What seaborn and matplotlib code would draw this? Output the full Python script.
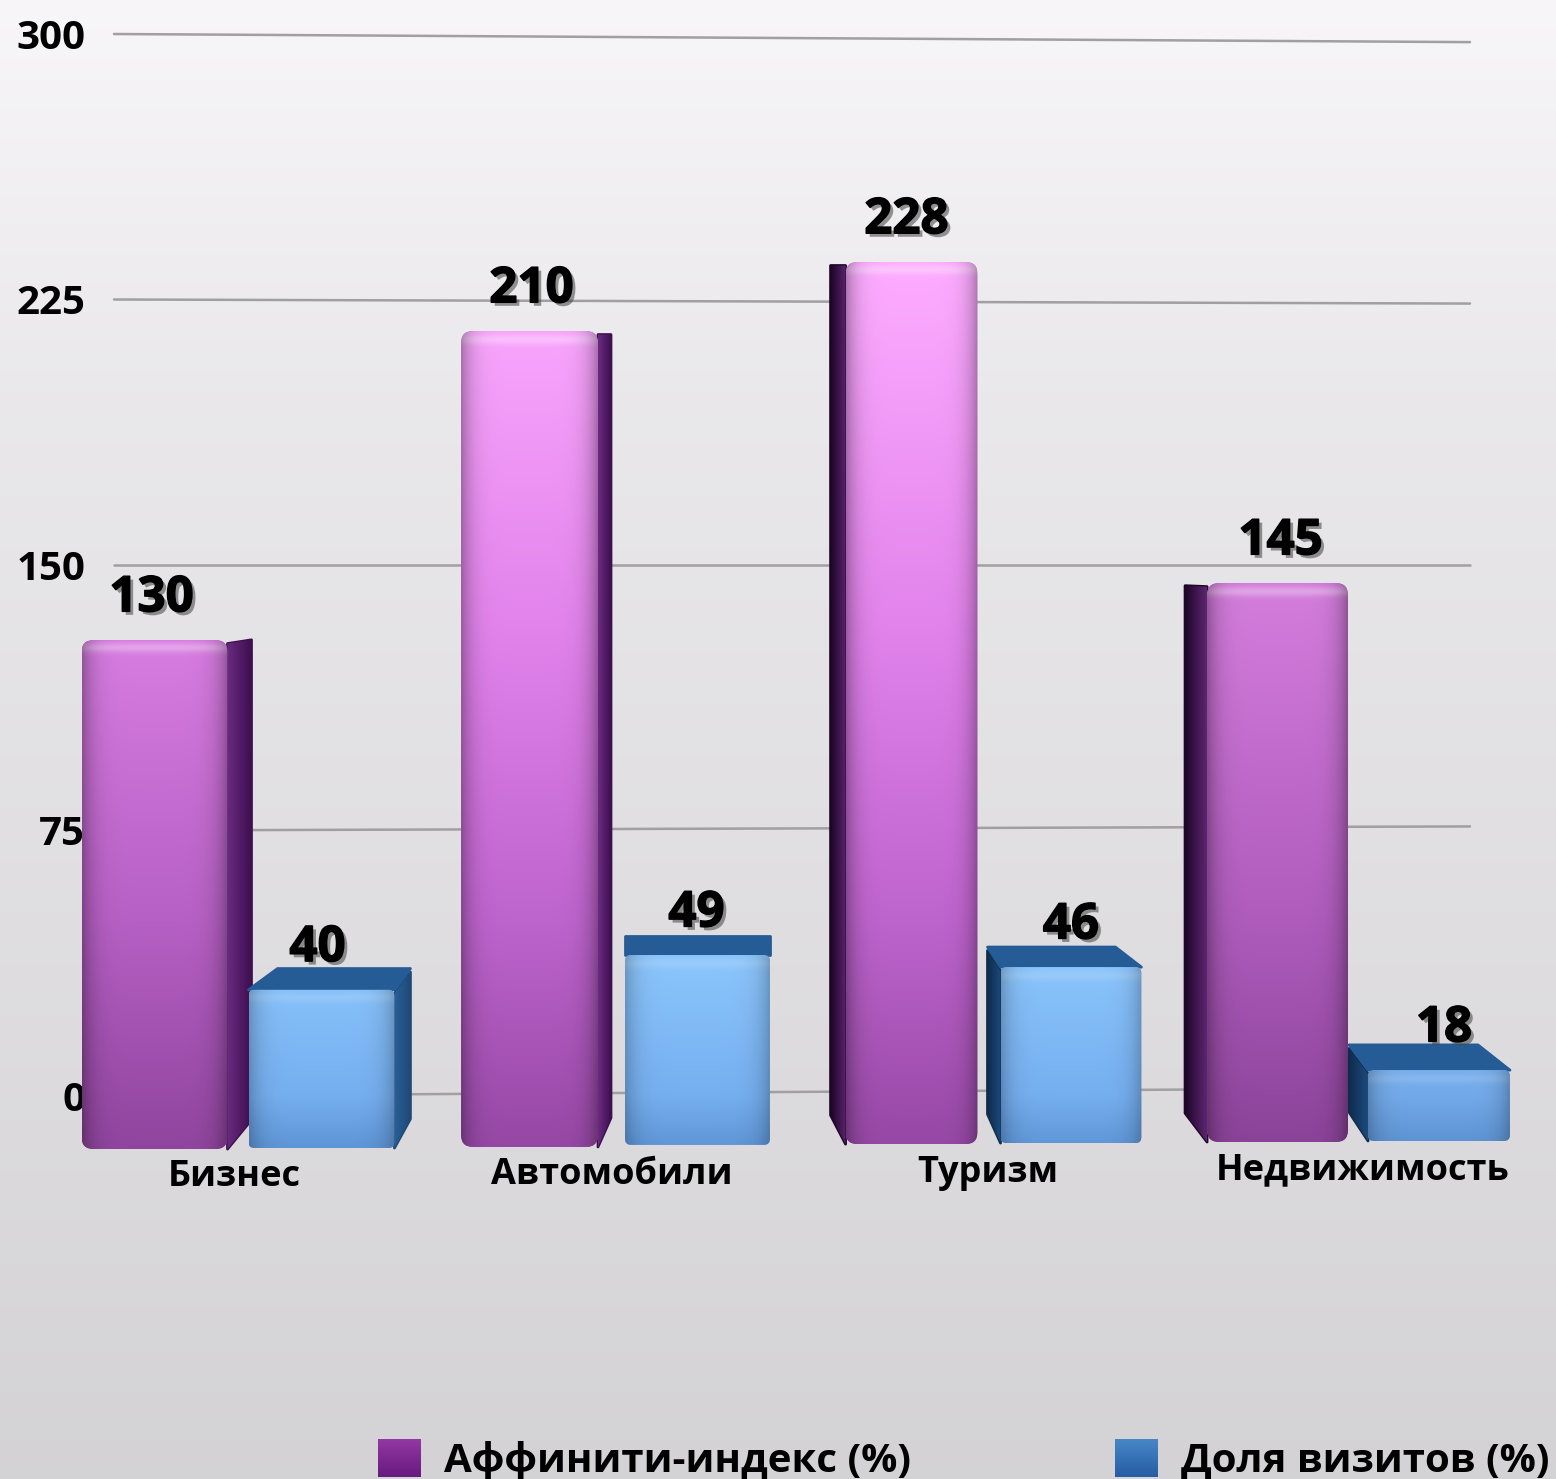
import matplotlib
matplotlib.use('Agg')
import matplotlib.pyplot as plt
import matplotlib.patheffects as pe
from matplotlib.patches import FancyBboxPatch, Polygon, BoxStyle
from matplotlib.transforms import ScaledTranslation
import numpy as np
import pandas as pd
import seaborn as sns

categories = ['Бизнес', 'Автомобили', 'Туризм', 'Недвижимость']
affinity_labels = [130, 210, 228, 145]
visit_labels = [40, 49, 46, 18]
# the picture is a 3D render, so the drawn tops differ from the printed numbers
affinity_tops = [128.8, 216.1, 235.6, 144.9]
visit_tops = [30.0, 39.8, 36.4, 7.3]
floors_affinity = [-15.0, -14.4, -13.6, -13.0]
floors_visits = [-14.7, -13.8, -13.3, -12.7]
y_ticks = [0, 75, 150, 225, 300]
series_names = ['Аффинити-индекс (%)', 'Доля визитов (%)']

W, H = 1556, 1479
PX_X = 373.5            # pixels per category
PX_Y = 3.54             # pixels per y unit
x_left = -238 / PX_X
x_right = (W - 238) / PX_X
y_top = 300 + 34 / PX_Y
y_bottom = 300 - (H - 34) / PX_Y
DEPTH = 0.05            # how far the back face moves to the horizon
HORIZON = 150

# side face width in pixels, + shows on the right, - on the left
side_affinity = [24, 13, -15, -22]
side_visits = [16, 0, -13, -19]
# front face trims in pixels (left, right) and brightness per bar
trim_affinity = [(0, 0), (6, 3), (17, -3), (5, 0)]
trim_visits = [(0, 0), (3, -2), (5, 0), (-1, 5)]
glow_affinity = [.96, 1.0, 1.0, .92]
glow_visits = [1.0, 1.0, 1.0, .97]
# value label nudges in pixels
nudge_affinity = [-3, 2, -5, 3]
nudge_visits = [-4, -1, 0, 5]

sns.set_theme(style='white')
plt.rcParams['font.family'] = ['Open Sans', 'DejaVu Sans']

df = pd.DataFrame({
    'category': categories * 2,
    'series': [series_names[0]] * 4 + [series_names[1]] * 4,
    'top': affinity_tops + visit_tops,
})

fig = plt.figure(figsize=(W / 100, H / 100), dpi=100)
ax = fig.add_axes([0, 0, 1, 1])

sns.barplot(data=df, x='category', y='top', hue='series', order=categories,
            hue_order=series_names, palette=['#b060c8', '#70a8e8'], width=.894,
            gap=.126, saturation=1, linewidth=0, errorbar=None, ax=ax)

# page background
bg_px = np.linspace(0, H, 256)
bg = np.interp(bg_px, [0, 220, 400, 800, 1200, 1479], [.97, .94, .915, .885, .855, .83])
bg_rgb = np.stack([bg, bg - .006, bg + .003], axis=1).clip(0, 1)
ax.imshow(bg_rgb[:, None, :], extent=[x_left, x_right, y_bottom, y_top], aspect='auto', zorder=0)

# grid lines converge slightly towards the right
gx0, gx1 = (114 - 238) / PX_X, (1470 - 238) / PX_X
for v in y_ticks:
    ax.plot([gx0, gx1], [v, v + (150 - v) * .0153], color='#a0a0a0', lw=1.8, zorder=.5)


def front_colors(stops_v, stops_rgb, y0, y1, edge, glow, strip_amount):
    rows = int((y1 - y0) * PX_Y)
    ys = np.linspace(y1, y0, rows)
    rgb = np.stack([np.interp(ys, stops_v, [c[i] for c in stops_rgb]) for i in range(3)], axis=1) / 255
    # pale strip just under the top edge
    strip = strip_amount * np.exp(-((np.arange(rows) - 8) / 5.0) ** 2)[:, None]
    rgb = rgb * glow * (1 - strip) + strip
    u = np.linspace(-1, 1, 80)
    shade = 1 - edge * np.abs(u) ** 6
    return (rgb[:, None, :] * shade[None, :, None]).clip(0, 1)


purple_stops = ([-14, 50, 130, 230], [(150, 72, 165), (190, 100, 205), (225, 130, 235), (252, 170, 255)])
blue_stops = ([-14, 0, 40], [(95, 150, 215), (118, 175, 240), (140, 198, 252)])
aspect = PX_X / PX_Y


def side_face(points, inner, outer, flip):
    poly = Polygon(points, closed=True, fc=outer, ec=outer, lw=2, joinstyle='round', zorder=2)
    ax.add_patch(poly)
    xs = [p[0] for p in points]
    ys = [p[1] for p in points]
    cols = np.array([matplotlib.colors.to_rgb(inner), matplotlib.colors.to_rgb(outer)])
    if flip:
        cols = cols[::-1]
    img = ax.imshow(np.linspace(cols[0], cols[1], 40)[None, :, :],
                    extent=[min(xs), max(xs), min(ys), max(ys)], aspect='auto', zorder=2.1)
    img.set_clip_path(poly)


def draw_bar(rect, floor, top, side, trim, glow, stops, colors_side, color_top, rounding, edge_dim, strip):
    x0 = rect.get_x() + trim[0] / PX_X
    w = rect.get_width() - (trim[0] + trim[1]) / PX_X
    rect.set_x(x0)
    rect.set_width(w)
    rect.set_y(floor)
    rect.set_height(top - floor)
    rect.set_zorder(3)
    s = side / PX_X
    rise_top = DEPTH * (HORIZON - top)
    rise_floor = DEPTH * (HORIZON - floor)
    side_rise = max(rise_top, 0)
    edge = x0 + w if side > 0 else x0
    if side != 0:
        inner, outer = colors_side[0] if side > 0 else colors_side[1]
        side_face([(edge, top - 1), (edge + s, top + side_rise - 1),
                   (edge + s, floor + rise_floor), (edge, floor)], inner, outer, side < 0)
    # only the low bars show their top face
    if rise_top > 2:
        far = 13 / PX_X
        xa, xb = x0 + s, x0 + w + s
        if side > 0:
            xa += far
        elif side < 0:
            xb -= far
        ax.add_patch(Polygon([(x0, top), (xa, top + rise_top), (xb, top + rise_top), (x0 + w, top)],
                             closed=True, fc=color_top, ec=color_top, lw=2, joinstyle='round', zorder=2.2))
    clip = FancyBboxPatch((x0, floor), w, top - floor,
                          boxstyle=BoxStyle('Round', pad=0, rounding_size=rounding),
                          mutation_aspect=aspect, fc='none', ec='none', zorder=3)
    ax.add_patch(clip)
    rect.set_clip_path(clip)
    img = ax.imshow(front_colors(stops[0], stops[1], floor, top, edge_dim, glow, strip),
                    extent=[x0, x0 + w, floor, top], aspect='auto', zorder=3.1)
    img.set_clip_path(clip)


purple_sides = (('#6a2a80', '#3f1050'), ('#5c2570', '#1e0628'))
blue_sides = (('#2a5f96', '#1f4a78'), ('#1c4a7c', '#0f2c4e'))
for i, rect in enumerate(ax.containers[0]):
    draw_bar(rect, floors_affinity[i], affinity_tops[i], side_affinity[i], trim_affinity[i], glow_affinity[i],
             purple_stops, purple_sides, '#6a2a80', 12 / PX_X, .3, .3)
for i, rect in enumerate(ax.containers[1]):
    draw_bar(rect, floors_visits[i], visit_tops[i], side_visits[i], trim_visits[i], glow_visits[i],
             blue_stops, blue_sides, '#265c96', 6 / PX_X, .22, .12)

shadow = [pe.SimplePatchShadow(offset=(2.5, -2.5), shadow_rgbFace='#444444', alpha=.55),
          pe.withStroke(linewidth=1, foreground='black')]
for cont, labels, nudges in zip(ax.containers, [affinity_labels, visit_labels], [nudge_affinity, nudge_visits]):
    texts = ax.bar_label(cont, labels=labels, padding=12, fontsize=35.5, fontweight='bold',
                         color='black', zorder=10, path_effects=shadow)
    for txt, dx in zip(texts, nudges):
        txt.xyann = (dx * .72, 12)

ax.set_xlim(x_left, x_right)
ax.set_ylim(y_bottom, y_top)
ax.set_xlabel('')
ax.set_ylabel('')
sns.despine(ax=ax, left=True, bottom=True)

ax.set_yticks(y_ticks)
ax.tick_params(axis='y', length=0, pad=-61.2, labelsize=29, labelcolor='black')
for lab in ax.get_yticklabels():
    lab.set_fontweight('bold')
    lab.set_zorder(10)

ax.set_xticks(range(4))
ax.set_xticklabels(categories)
ax.tick_params(axis='x', length=0, pad=-222.5, labelsize=26, labelcolor='black')
x_shift = [-4, 0, 3, 4]
y_shift = [-7, -5, -3, 0]
for lab, dx, dy in zip(ax.get_xticklabels(), x_shift, y_shift):
    lab.set_fontweight('bold')
    lab.set_va('center')
    lab.set_transform(lab.get_transform() + ScaledTranslation(dx / 100, dy / 100, fig.dpi_scale_trans))

sns.move_legend(ax, 'lower left', bbox_to_anchor=(378 / W, -.0013), ncol=2, frameon=False,
                title=None, fontsize=29, handlelength=1.05, handleheight=1.05,
                handletextpad=.6, columnspacing=5.05, borderpad=0, borderaxespad=0)
leg = ax.get_legend()
for t in leg.get_texts():
    t.set_fontweight('bold')
    t.set_color('black')

# legend swatches get the same soft gradient as the bars
fig.canvas.draw()
swatch_colors = [((.58, .22, .64), (.40, .10, .50)), ((.28, .53, .78), (.15, .36, .64))]
inv = ax.transData.inverted()
for handle, (c0, c1) in zip(leg.legend_handles, swatch_colors):
    bb = handle.get_window_extent()
    (xa, ya), (xb, yb) = inv.transform([(bb.x0, bb.y0), (bb.x1, bb.y1)])
    grad = np.linspace(c0, c1, 60)[:, None, :]
    ax.imshow(grad, extent=[xa, xb, ya, yb], aspect='auto', zorder=6)
ax.set_xlim(x_left, x_right)
ax.set_ylim(y_bottom, y_top)

plt.savefig('out.png', dpi=100)
